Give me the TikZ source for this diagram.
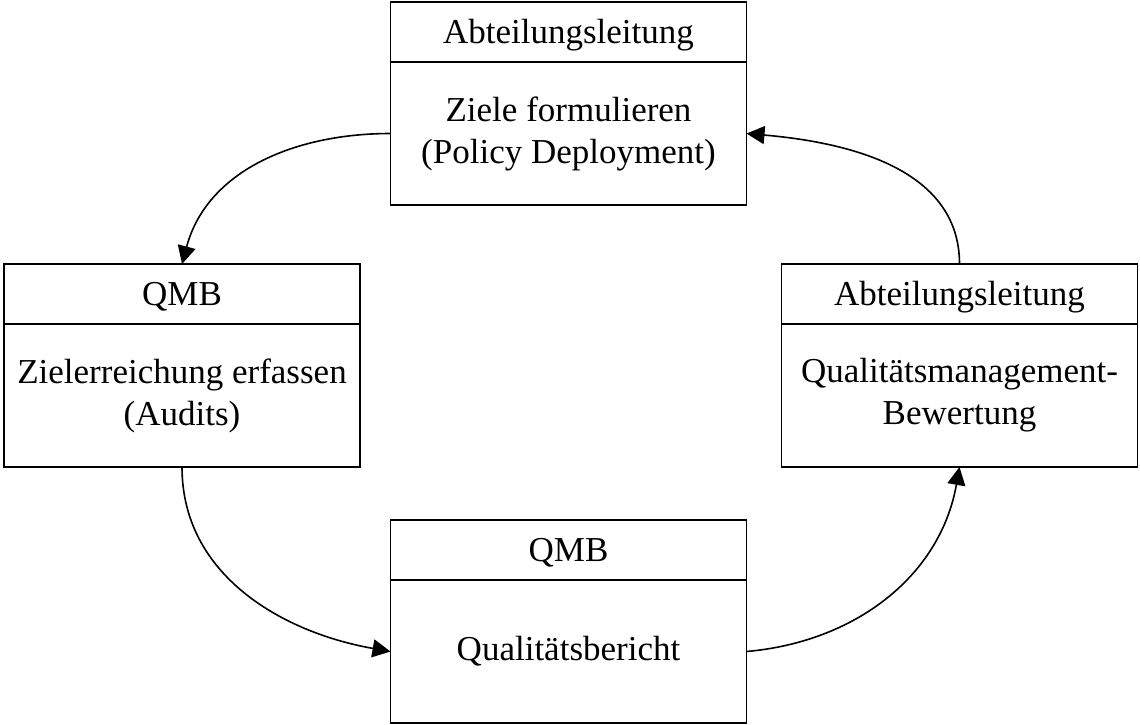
\documentclass[tikz,border=0pt]{standalone}
\usepackage{fontspec}
\setmainfont{Liberation Serif}
\usepackage{tikz}
\usetikzlibrary{arrows.meta,positioning}

\begin{document}
\begin{tikzpicture}[->,>={Triangle[length=18pt,width=18pt]},x=1pt,y=-1pt,
                    line width=1.6pt,node distance=0pt,
                    kopf/.style={draw,outer sep=0pt,inner sep=0pt,minimum width=356pt,
                                 minimum height=60pt,text height=23pt,text depth=0pt},
                    feld/.style={draw,outer sep=0pt,inner sep=0pt,minimum width=356pt,
                                 minimum height=143pt,align=center},
                    font=\fontsize{35}{42}\selectfont]

\useasboundingbox (0,0) rectangle (1140,724);

\node[kopf] (Ak) at (568.5,32) {Abteilungsleitung};
\node[feld] (A) [below=of Ak] {Ziele formulieren\\(Policy Deployment)};
\node[kopf] (Bk) at (182,294) {QMB};
\node[feld] (B) [below=of Bk] {Zielerreichung erfassen\\(Audits)};
\node[kopf] (Ck) at (568.5,550) {QMB};
\node[feld] (C) [below=of Ck] {Qualitätsbericht};
\node[kopf] (Dk) at (959.5,294) {Abteilungsleitung};
\node[feld] (D) [below=of Dk] {Qualitätsmanagement-\\Bewertung};

\path
    (A.west)   edge [out=180,in=75]   (Bk.north)
    (B.south)  edge [out=-90,in=170]  (C.west)
    (C.east)   edge [out=5,in=-100]   (D.south)
    (Dk.north) edge [out=90,in=-5]    (A.east)
;
\end{tikzpicture}
\end{document}
